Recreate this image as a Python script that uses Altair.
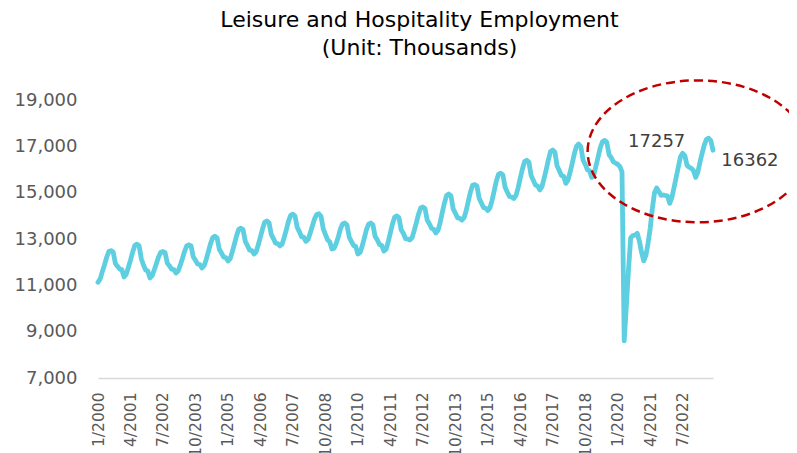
import altair as alt
import pandas as pd

# Monthly employment, thousands (Jan..Dec)
y2000 = [11130, 11280, 11580, 11880, 12200, 12460, 12500, 12440, 11950, 11820, 11700, 11680]
y2001 = [11360, 11480, 11760, 12080, 12420, 12720, 12780, 12700, 12150, 11880, 11660, 11620]
y2002 = [11320, 11420, 11660, 11940, 12220, 12430, 12460, 12410, 11960, 11840, 11700, 11680]
y2003 = [11530, 11620, 11860, 12150, 12460, 12700, 12750, 12700, 12230, 12080, 11920, 11900]
y2004 = [11750, 11850, 12120, 12460, 12800, 13060, 13120, 13050, 12560, 12400, 12220, 12200]
y2005 = [12050, 12150, 12430, 12780, 13130, 13420, 13470, 13400, 12900, 12720, 12520, 12500]
y2006 = [12350, 12450, 12730, 13080, 13430, 13720, 13780, 13700, 13200, 13020, 12820, 12800]
y2007 = [12700, 12780, 13060, 13400, 13760, 14020, 14070, 13990, 13500, 13320, 13100, 13080]
y2008 = [12900, 12980, 13250, 13560, 13860, 14060, 14090, 13980, 13440, 13200, 12960, 12880]
y2009 = [12570, 12600, 12800, 13100, 13440, 13660, 13690, 13600, 13080, 12900, 12720, 12680]
y2010 = [12350, 12420, 12680, 13040, 13400, 13640, 13690, 13600, 13100, 12960, 12760, 12720]
y2011 = [12480, 12560, 12850, 13250, 13640, 13940, 14000, 13920, 13400, 13250, 13020, 13000]
y2012 = [12960, 13050, 13350, 13700, 14060, 14340, 14380, 14320, 13820, 13660, 13460, 13420]
y2013 = [13260, 13380, 13700, 14140, 14550, 14880, 14940, 14860, 14300, 14120, 13920, 13890]
y2014 = [13820, 13920, 14200, 14620, 15020, 15320, 15350, 15290, 14760, 14560, 14360, 14330]
y2015 = [14230, 14350, 14660, 15080, 15500, 15800, 15840, 15770, 15230, 15030, 14840, 14810]
y2016 = [14750, 14880, 15200, 15620, 16020, 16340, 16400, 16310, 15740, 15540, 15330, 15290]
y2017 = [15120, 15270, 15600, 16000, 16420, 16780, 16840, 16750, 16150, 15960, 15740, 15710]
y2018 = [15400, 15550, 15860, 16260, 16680, 17010, 17100, 16990, 16400, 16220, 15990, 15950]
y2019 = [15660, 15800, 16150, 16550, 16950, 17200, 17257, 17170, 16640, 16520, 16330, 16280]
y2020 = [16220, 16120, 15900, 8600, 10100, 11700, 13050, 13150, 13170, 13250, 12900, 12420]
y2021 = [12060, 12300, 12800, 13450, 14300, 15000, 15200, 15050, 14880, 14900, 14880, 14850]
y2022 = [14540, 14800, 15200, 15650, 16100, 16550, 16700, 16600, 16180, 16100, 16050, 15950]
y2023 = [15660, 15900, 16300, 16700, 17050, 17300, 17350, 17250, 16830]

years = [y2000, y2001, y2002, y2003, y2004, y2005, y2006, y2007, y2008, y2009, y2010, y2011,
         y2012, y2013, y2014, y2015, y2016, y2017, y2018, y2019, y2020, y2021, y2022, y2023]

tick_labels = ["1/2000", "4/2001", "7/2002", "10/2003", "1/2005", "4/2006", "7/2007",
               "10/2008", "1/2010", "4/2011", "7/2012", "10/2013", "1/2015", "4/2016",
               "7/2017", "10/2018", "1/2020", "4/2021", "7/2022"]
y_ticks = [7000, 9000, 11000, 13000, 15000, 17000, 19000]

ann_text = ["17257", "16362"]
ann_date = ["2021-07-01", "2025-02-01"]
ann_value = [17173, 16353]

ell_date = ["2023-01-28"]
ell_value = [16784]

rows = []
for i, vals in enumerate(years):
    for m, v in enumerate(vals):
        rows.append({"date": f"{2000 + i}-{m + 1:02d}-01", "value": v})
df = pd.DataFrame(rows)

ann_df = pd.DataFrame({"date": ann_date, "value": ann_value, "label": ann_text})
ell_df = pd.DataFrame({"date": ell_date, "value": ell_value})

tick_dates = [alt.DateTime(year=int(t.split("/")[1]), month=int(t.split("/")[0]), date=1, utc=True)
              for t in tick_labels]

FONT = "DejaVu Sans"
x_scale = alt.Scale(type="utc",
                    domain=[alt.DateTime(year=2000, month=1, date=1, utc=True),
                            alt.DateTime(year=2023, month=9, date=1, utc=True)])
y_scale = alt.Scale(domain=[7000, 19000], nice=False, zero=False)

x_enc = alt.X("date:T", scale=x_scale, title=None,
              axis=alt.Axis(values=tick_dates, labelExpr="utcFormat(datum.value, '%-m/%Y')",
                            labelAngle=-90, labelFontSize=15.5, labelColor="#595959",
                            labelFont=FONT, ticks=False, grid=False, domainColor="#D9D9D9",
                            domainWidth=1.5, labelPadding=14, labelOverlap=False, title=None))
y_enc = alt.Y("value:Q", scale=y_scale, title=None,
              axis=alt.Axis(values=y_ticks, labelExpr="format(datum.value, ',.0f')",
                            labelFontSize=18, labelColor="#595959",
                            labelFont=FONT, ticks=False, grid=False, domain=False,
                            labelPadding=21, title=None))

line = alt.Chart(df).mark_line(color="#5DCFE0", strokeWidth=4.8, strokeCap="round",
                               strokeJoin="round").encode(x=x_enc, y=y_enc)

ann = alt.Chart(ann_df).mark_text(fontSize=18, color="#404040", font=FONT).encode(
    x=x_enc, y=y_enc, text="label:N",
)

ell = alt.Chart(ell_df).mark_point(
    shape="M -1 0 A 1 0.645 0 1 1 1 0 A 1 0.645 0 1 1 -1 0 Z",
    size=48400, filled=False, stroke="#C00000", strokeWidth=2.5, strokeDash=[9, 5],
    opacity=1,
).encode(x=x_enc, y=y_enc)

chart = alt.layer(line, ann, ell).properties(
    width=615, height=278,
    padding={"left": 90, "top": 92, "right": 76, "bottom": 75},
    autosize=alt.AutoSizeParams(type="none"),
    title=alt.TitleParams(text=["Leisure and Hospitality Employment", "(Unit: Thousands)"],
                          fontSize=22, lineHeight=28, font=FONT, fontWeight="normal",
                          color="#000000", anchor="middle", dx=14, offset=15),
).configure_view(stroke=None)

chart.save("out.html", embed_options={"renderer": "svg", "actions": False})
